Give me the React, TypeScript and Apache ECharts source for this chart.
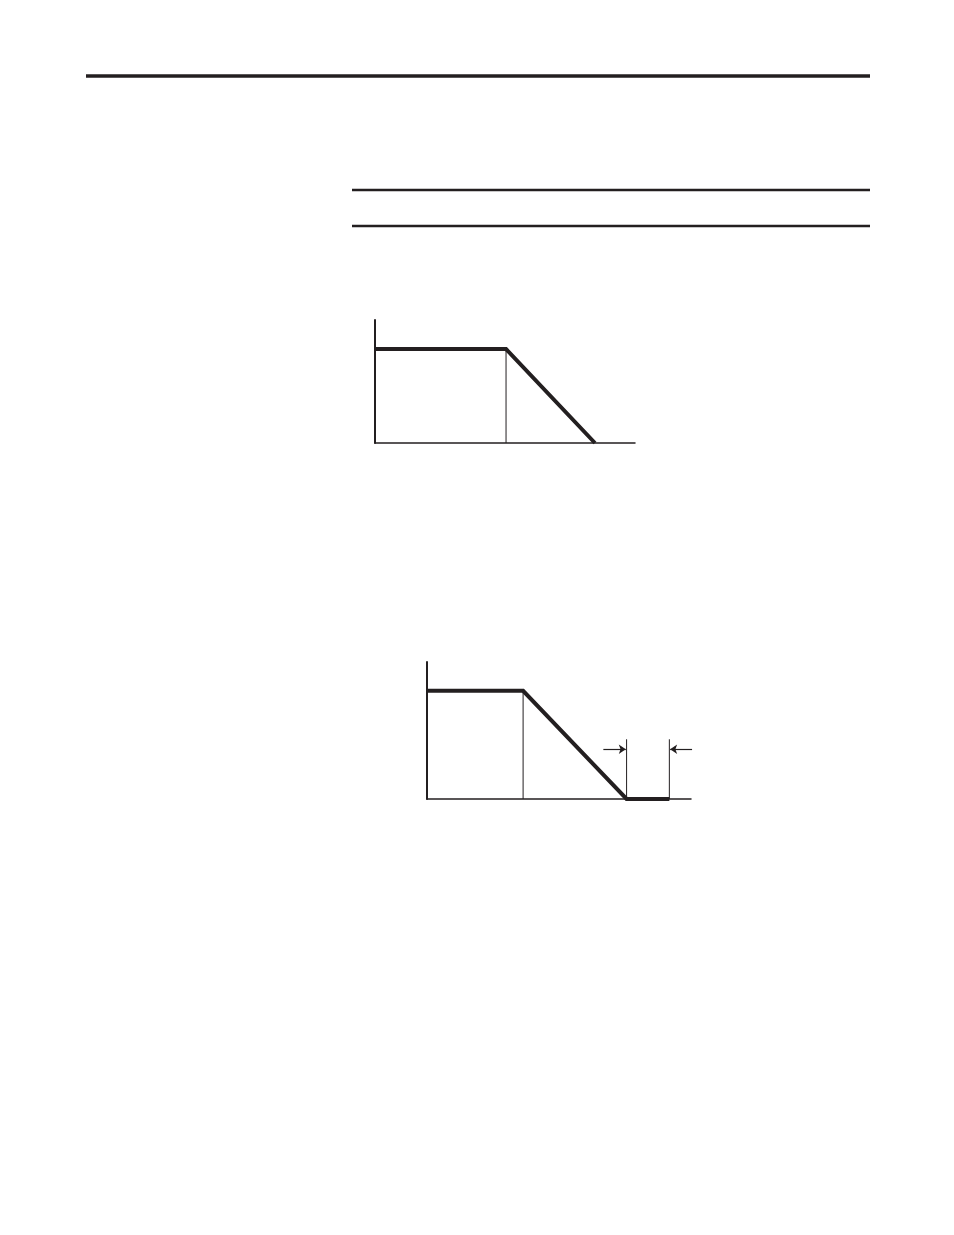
import React, { useEffect, useRef } from "react";
import * as echarts from "echarts";

// Chart 1 (upper): flat then linear decrease
const curve1X = [0, 50.4, 84.6];
const curve1Y = [76.4, 76.4, 0];
const divider1X = [50.4, 50.4];
const divider1Y = [0, 76.4];

// Chart 2 (lower): flat, linear decrease, then flat at zero
const curve2X = [0, 36.4, 75.6, 91.8];
const curve2Y = [79, 79, 0, 0];
const divider2X = [36.4, 36.4];
const divider2Y = [0, 79];
const markerXs = [75.6, 91.8];
const markerTop = 43.6;
const arrowY = 36.3;
const arrowLeftFrom = 66.8;
const arrowRightFrom = 100.4;

const INK = "#231f20";

const zip = (xs: number[], ys: number[]) => xs.map((x, i) => [x, ys[i]]);

export default function App() {
  const ref = useRef<HTMLDivElement>(null);
  useEffect(() => {
    if (!ref.current) return;
    const chart = echarts.init(ref.current, undefined, { renderer: "svg" });
    const axisCommon = {
      type: "value" as const,
      min: 0,
      max: 100,
      axisLabel: { show: false },
      axisTick: { show: false },
      splitLine: { show: false },
    };
    const thin = (xi: number, data: number[][]) => ({
      type: "line",
      xAxisIndex: xi,
      yAxisIndex: xi,
      data,
      symbol: "none",
      clip: false,
      lineStyle: { color: INK, width: 1 },
    });
    chart.setOption({
      animation: false,
      backgroundColor: "#ffffff",
      grid: [
        { left: 375, top: 320, width: 260, height: 123 },
        { left: 427, top: 662, width: 264, height: 137 },
      ],
      xAxis: [
        { ...axisCommon, gridIndex: 0, axisLine: { show: true, lineStyle: { color: INK, width: 1.5 } } },
        { ...axisCommon, gridIndex: 1, axisLine: { show: true, lineStyle: { color: INK, width: 1.5 } } },
      ],
      yAxis: [
        { ...axisCommon, gridIndex: 0, axisLine: { show: true, lineStyle: { color: INK, width: 2 } } },
        { ...axisCommon, gridIndex: 1, axisLine: { show: true, lineStyle: { color: INK, width: 2 } } },
      ],
      series: [
        thin(0, zip(divider1X, divider1Y)),
        {
          type: "line",
          xAxisIndex: 0,
          yAxisIndex: 0,
          data: zip(curve1X, curve1Y),
          symbol: "none",
          clip: false,
          lineStyle: { color: INK, width: 4, join: "miter" },
        },
        thin(1, zip(divider2X, divider2Y)),
        thin(1, [[markerXs[0], 0], [markerXs[0], markerTop]]),
        thin(1, [[markerXs[1], 0], [markerXs[1], markerTop]]),
        {
          type: "line",
          xAxisIndex: 1,
          yAxisIndex: 1,
          data: zip(curve2X, curve2Y),
          symbol: "none",
          clip: false,
          lineStyle: { color: INK, width: 4, join: "miter" },
        },
        {
          type: "lines",
          coordinateSystem: "cartesian2d",
          xAxisIndex: 1,
          yAxisIndex: 1,
          clip: false,
          symbol: ["none", "arrow"],
          symbolSize: 7,
          lineStyle: { color: INK, width: 1.2, opacity: 1 },
          data: [
            { coords: [[arrowLeftFrom, arrowY], [markerXs[0] - 0.3, arrowY]] },
            { coords: [[arrowRightFrom, arrowY], [markerXs[1] + 0.3, arrowY]] },
          ],
        },
      ],
      graphic: [
        { type: "line", shape: { x1: 86, y1: 76, x2: 870, y2: 76 }, style: { stroke: INK, lineWidth: 3.5 } },
        { type: "line", shape: { x1: 352, y1: 190, x2: 870, y2: 190 }, style: { stroke: INK, lineWidth: 2.5 } },
        { type: "line", shape: { x1: 352, y1: 226, x2: 870, y2: 226 }, style: { stroke: INK, lineWidth: 2.5 } },
      ],
    });
    return () => chart.dispose();
  }, []);
  return (
    <div
      ref={ref}
      style={{ position: "absolute", left: 0, top: 0, width: 954, height: 1235, background: "#fff" }}
    />
  );
}
